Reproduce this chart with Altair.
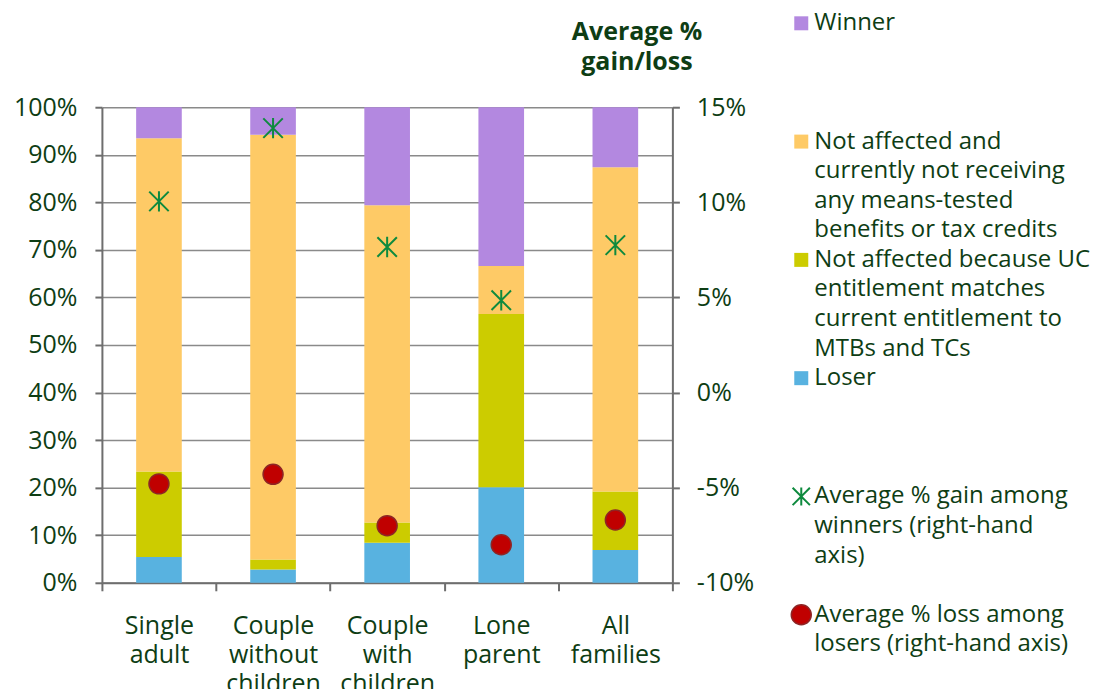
import altair as alt
import pandas as pd

# ---------------- data ----------------
categories = ["Single adult", "Couple without children", "Couple with children",
              "Lone parent", "All families"]
loser = [5.4, 2.8, 8.4, 20.1, 6.9]
not_affected_uc = [18.0, 2.1, 4.3, 36.4, 12.3]
not_affected_not_receiving = [70.1, 89.3, 66.7, 10.1, 68.2]
winner = [6.5, 5.8, 20.6, 33.4, 12.6]
avg_gain = [10.05, 13.9, 7.65, 4.85, 7.75]     # right-hand axis, %
avg_loss = [-4.8, -4.3, -7.0, -8.0, -6.7]      # right-hand axis, %

series_names = [
    "Loser",
    "Not affected because UC entitlement matches current entitlement to MTBs and TCs",
    "Not affected and currently not receiving any means-tested benefits or tax credits",
    "Winner",
]
series_colors = ["#58B2E0", "#CCCC00", "#FECA66", "#B388E0"]

left_ticks = [0, 10, 20, 30, 40, 50, 60, 70, 80, 90, 100]
right_ticks = [-10, -5, 0, 5, 10, 15]
right_title = ["Average %", "gain/loss"]

legend_labels = [
    ["Winner"],
    ["Not affected and", "currently not receiving", "any means-tested", "benefits or tax credits"],
    ["Not affected because UC", "entitlement matches", "current entitlement to", "MTBs and TCs"],
    ["Loser"],
    ["Average % gain among", "winners (right-hand", "axis)"],
    ["Average % loss among", "losers (right-hand axis)"],
]
legend_series = ["Winner", series_names[2], series_names[1], "Loser"]
legend_slots = [0, 4, 8, 12, 16, 20]

# ---------------- styles ----------------
FONT = "Open Sans"
FS = 25
LEG_FS = 24
TEXT = "#0E3D14"
AXIS_GREY = "#6E6E6E"
GREEN = "#0E8A3E"
RED = "#C00000"
STAR = "M-1,-1L1,1M-1,1L1,-1M0,-1.05L0,1.05"

# ---------------- tables ----------------
series_values = [loser, not_affected_uc, not_affected_not_receiving, winner]
bar_rows = []
for si, (name, vals) in enumerate(zip(series_names, series_values)):
    for c, v in zip(categories, vals):
        bar_rows.append({"category": c, "series": name, "value": v / 100.0, "order": si})
bars_df = pd.DataFrame(bar_rows)

gain_df = pd.DataFrame({"category": categories, "pct": [g / 100.0 for g in avg_gain]})
loss_df = pd.DataFrame({"category": categories, "pct": [l / 100.0 for l in avg_loss]})

color_scale = alt.Scale(domain=series_names, range=series_colors)
x_enc = alt.X(
    "category:N", sort=categories, title=None,
    scale=alt.Scale(paddingInner=0, paddingOuter=0),
    axis=alt.Axis(labelAngle=0, labelExpr="split(datum.label, ' ')", tickBand="extent",
                  tickSize=8, labelPadding=23, labelLineHeight=29, domain=True,
                  labelBaseline="top"),
)

right_axis = alt.Axis(
    orient="right", values=[t / 100.0 for t in right_ticks],
    labelExpr="round(datum.value * 100) + '%'", grid=False, tickSize=7,
    labelPadding=17, title=right_title, titleAngle=0, titleAlign="center",
    titleBaseline="alphabetic", titleX=-36, titleY=-68, titleFontSize=FS,
    titleFontWeight="bold", titleColor=TEXT, titleLineHeight=30,
)
right_scale = alt.Scale(domain=[-0.10, 0.15], nice=False, zero=False)

bars = alt.Chart(bars_df).mark_bar(width=alt.RelativeBandSize(0.4)).encode(
    x=x_enc,
    y=alt.Y("value:Q", stack="zero", scale=alt.Scale(domain=[0, 1], nice=False),
            axis=alt.Axis(values=[t / 100.0 for t in left_ticks],
                          labelExpr="round(datum.value * 100) + '%'", grid=True,
                          tickSize=7, labelPadding=18, title=None)),
    color=alt.Color("series:N", scale=color_scale, legend=None),
    order=alt.Order("order:Q"),
)

gain_pts = alt.Chart(gain_df).mark_point(
    shape=STAR, size=380, filled=False, stroke=GREEN, strokeWidth=2, opacity=1
).encode(x=x_enc, y=alt.Y("pct:Q", scale=right_scale, axis=right_axis))

loss_pts = alt.Chart(loss_df).mark_point(
    shape="circle", size=400, filled=True, fill=RED, stroke="#8E2525", strokeWidth=1.5, opacity=1
).encode(x=x_enc, y=alt.Y("pct:Q", scale=right_scale, axis=right_axis))

main = alt.layer(bars, alt.layer(gain_pts, loss_pts)).resolve_scale(y="independent").properties(
    width=571, height=476
)

# ---------------- legend panel ----------------
text_rows = []
for slot, lines in zip(legend_slots, legend_labels):
    for i, line in enumerate(lines):
        text_rows.append({"slot": slot + i, "text": line})
leg_text_df = pd.DataFrame(text_rows)
leg_sq_df = pd.DataFrame({"slot": legend_slots[:4], "series": legend_series})
leg_star_df = pd.DataFrame({"slot": [legend_slots[4]]})
leg_circ_df = pd.DataFrame({"slot": [legend_slots[5]]})

# legend rows: one text line per slot, 29.6 px apart, first row level with the chart header
ly = alt.Y("slot:Q", scale=alt.Scale(domain=[0, 21], range=[-84, 537.6], nice=False, zero=False),
           axis=None)

leg_text = alt.Chart(leg_text_df).mark_text(
    align="left", baseline="middle", font=FONT, fontSize=LEG_FS, color=TEXT
).encode(x=alt.value(20), y=ly, text="text:N")

leg_sq = alt.Chart(leg_sq_df).mark_square(size=196, opacity=1).encode(
    x=alt.value(7), y=ly, color=alt.Color("series:N", scale=color_scale, legend=None)
)
leg_star = alt.Chart(leg_star_df).mark_point(
    shape=STAR, size=300, filled=False, stroke=GREEN, strokeWidth=2, opacity=1
).encode(x=alt.value(7), y=ly)
leg_circ = alt.Chart(leg_circ_df).mark_point(
    shape="circle", size=400, filled=True, fill=RED, stroke="#8E2525", strokeWidth=1.5, opacity=1
).encode(x=alt.value(7), y=ly)

legend_panel = alt.layer(leg_sq, leg_star, leg_circ, leg_text).properties(width=270, height=476)

chart = alt.hconcat(main, legend_panel, spacing=34).properties(
    padding={"left": 5, "top": 3, "right": 0, "bottom": -8}
).configure(font=FONT).configure_view(strokeWidth=0).configure_axis(
    labelFont=FONT, labelFontSize=FS, labelColor=TEXT,
    domainColor=AXIS_GREY, domainWidth=2, tickColor=AXIS_GREY, tickWidth=2,
    gridColor="#8A8A8A", gridWidth=1.5, titleFont=FONT,
)

chart.save("out.html", embed_options={"renderer": "svg", "actions": False})
